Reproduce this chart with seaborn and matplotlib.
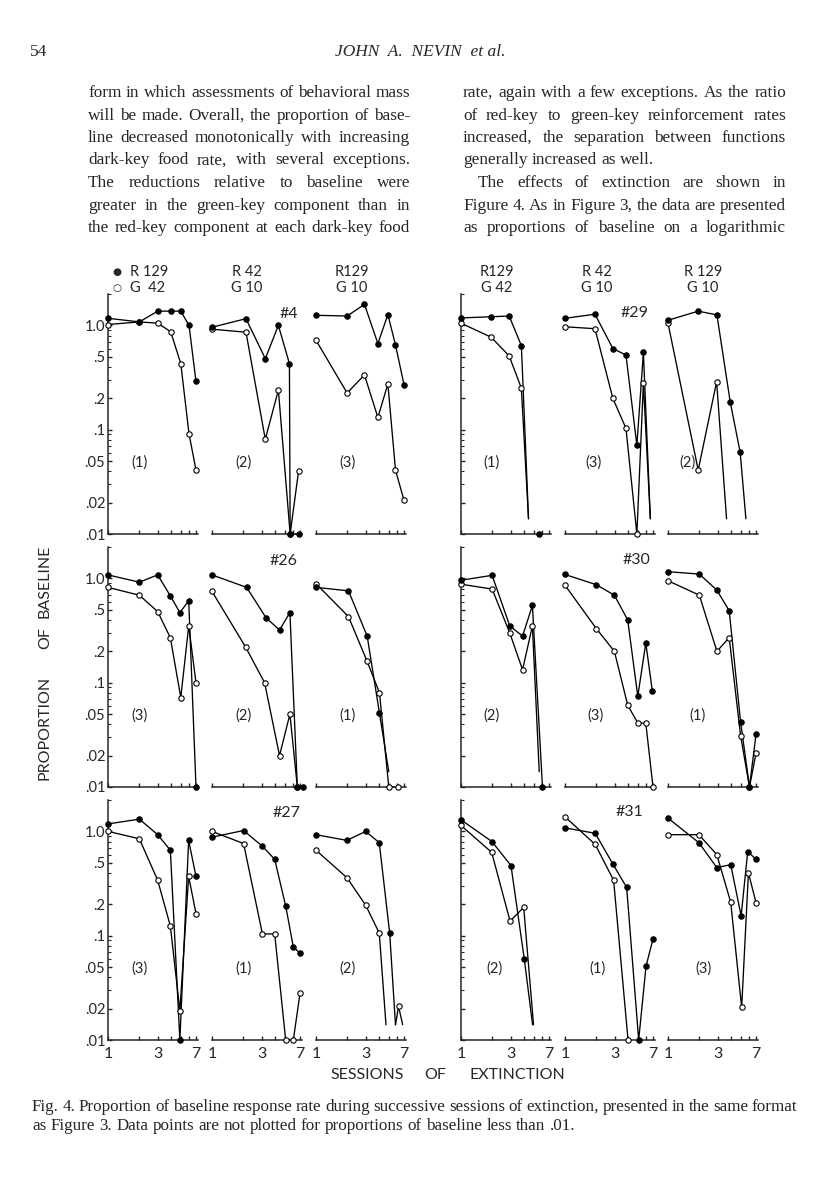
import numpy as np
import matplotlib
matplotlib.use("Agg")
import matplotlib.pyplot as plt
from matplotlib.ticker import NullFormatter
import seaborn as sns

NaN = np.nan

#* data : sessions of extinction (x) and proportion of baseline (y)
#* None = below .01 (line stopped, no point), NaN = gap in the line

# subject 4 (top row, left)
s4_x1 = [1, 2, 3, 4, 5, 6, 7]
s4_r1 = [1.17, 1.08, 1.37, 1.37, 1.37, 1.0, 0.29]
s4_g1 = [1.02, 1.08, 1.05, 0.87, 0.43, 0.091, 0.041]
s4_rx2 = [1, 2.12, 3.25, 4.34, 5.54, 5.63, 6.78]
s4_r2 = [0.96, 1.16, 0.48, 1.0, 0.43, 0.01, 0.01]
s4_gx2 = [1, 2.12, 3.25, 4.34, 5.63, 6.78]
s4_g2 = [0.92, 0.86, 0.081, 0.24, 0.01, 0.04]
s4_x3 = [1, 1.99, 2.92, 3.93, 4.9, 5.8, 7]
s4_r3 = [1.25, 1.23, 1.59, 0.67, 1.27, 0.65, 0.27]
s4_g3 = [0.72, 0.225, 0.335, 0.131, 0.275, 0.041, 0.021]

# subject 26 (middle row, left)
s26_rx1 = [1, 2, 3, 3.97, 4.9, 5.96, 7]
s26_r1 = [1.08, 0.92, 1.08, 0.68, 0.47, 0.61, 0.01]
s26_gx1 = [1, 2, 3, 3.97, 5.0, 5.96, 7]
s26_g1 = [0.82, 0.69, 0.48, 0.27, 0.072, 0.35, 0.10]
s26_rx2 = [1, 2.15, 3.3, 4.45, 5.6, 6.6, 7.5]
s26_r2 = [1.08, 0.82, 0.42, 0.32, 0.47, 0.01, 0.01]
s26_gx2 = [1, 2.1, 3.2, 4.45, 5.6, 6.6]
s26_g2 = [0.75, 0.22, 0.10, 0.02, 0.05, 0.01]
s26_rx3 = [1, 2.05, 3.1, 4.07, 5.0]
s26_r3 = [0.82, 0.76, 0.28, 0.051, None]
s26_gx3 = [1, 2.05, 3.1, 4.07, 5.0, 6.1]
s26_g3 = [0.89, 0.43, 0.16, 0.08, 0.01, 0.01]

# subject 27 (bottom row, left)
s27_x1 = [1, 2, 3, 3.97, 4.9, 5.95, 7]
s27_r1 = [1.18, 1.31, 0.93, 0.66, 0.01, 0.82, 0.37]
s27_g1 = [1.0, 0.85, 0.34, 0.124, 0.019, 0.37, 0.163]
s27_x2 = [1, 2.01, 3.05, 4.0, 5.1, 6.04, 7]
s27_r2 = [0.88, 1.02, 0.72, 0.54, 0.193, 0.078, 0.068]
s27_g2 = [1.0, 0.765, 0.104, 0.104, 0.01, 0.01, 0.028]
s27_rx3 = [1, 1.98, 3.0, 4.05, 5.1, 5.8]
s27_r3 = [0.93, 0.82, 1.0, 0.78, 0.106, None]
s27_gx3 = [1, 1.98, 3.0, 4.05, 4.7, NaN, 5.8, 6.2, 6.8]
s27_g3 = [0.66, 0.36, 0.196, 0.106, None, NaN, None, 0.021, None]

# subject 29 (top row, right)
s29_rx1 = [1, 1.95, 2.9, 3.8, 4.45, NaN, 5.6]
s29_r1 = [1.18, 1.21, 1.23, 0.64, None, NaN, 0.01]
s29_gx1 = [1, 1.95, 2.9, 3.8, 4.45]
s29_g1 = [1.05, 0.77, 0.51, 0.25, None]
s29_x2 = [1, 1.94, 2.88, 3.85, 4.9, 5.66, 6.6]
s29_r2 = [1.17, 1.28, 0.60, 0.52, 0.071, 0.55, None]
s29_g2 = [0.97, 0.93, 0.20, 0.103, 0.01, 0.28, None]
s29_rx3 = [1, 1.95, 2.95, 3.96, 4.93, 5.6]
s29_r3 = [1.12, 1.37, 1.26, 0.184, 0.061, None]
s29_gx3 = [1, 1.95, 2.93, 3.65]
s29_g3 = [1.05, 0.041, 0.288, None]

# subject 30 (middle row, right)
s30_rx1 = [1, 1.99, 2.94, 3.9, 4.85, 6.06]
s30_r1 = [0.96, 1.07, 0.35, 0.28, 0.55, 0.01]
s30_gx1 = [1, 1.99, 2.94, 3.9, 4.85, 5.64]
s30_g1 = [0.88, 0.79, 0.30, 0.133, 0.35, None]
s30_rx2 = [1, 2, 2.98, 4, 5, 5.97, 6.9]
s30_r2 = [1.09, 0.87, 0.69, 0.40, 0.074, 0.24, 0.083]
s30_gx2 = [1, 2, 2.98, 4, 5, 5.97, 7]
s30_g2 = [0.86, 0.33, 0.20, 0.061, 0.041, 0.041, 0.01]
s30_x3 = [1, 2, 2.95, 3.87, 4.98, 6.06, 7]
s30_r3 = [1.16, 1.10, 0.77, 0.49, 0.042, 0.01, 0.032]
s30_g3 = [0.95, 0.69, 0.20, 0.27, 0.031, 0.01, 0.021]

# subject 31 (bottom row, right)
s31_rx1 = [1, 1.98, 3.02, 4.05, 4.87]
s31_r1 = [1.29, 0.80, 0.47, 0.06, None]
s31_gx1 = [1, 1.97, 2.96, 4.0, 4.97]
s31_g1 = [1.14, 0.63, 0.138, 0.187, None]
s31_rx2 = [1, 1.95, 2.87, 3.91, 5.1, 6.0, 7]
s31_r2 = [1.08, 0.96, 0.49, 0.29, 0.01, 0.051, 0.093]
s31_gx2 = [1, 1.95, 2.93, 4.03]
s31_g2 = [1.38, 0.75, 0.34, 0.01]
s31_rx3 = [1, 1.98, 2.94, 4.0, 5.04, 5.83, 7]
s31_r3 = [1.34, 0.78, 0.45, 0.48, 0.155, 0.64, 0.54]
s31_gx3 = [1, 1.98, 2.94, 4.0, 5.1, 5.92, 7]
s31_g3 = [0.93, 0.93, 0.60, 0.21, 0.0205, 0.40, 0.208]

# labels
subjects_left = ["#4", "#26", "#27"]
subjects_right = ["#29", "#30", "#31"]
cond_left = [["(1)", "(2)", "(3)"], ["(3)", "(2)", "(1)"], ["(3)", "(1)", "(2)"]]
cond_right = [["(1)", "(3)", "(2)"], ["(2)", "(3)", "(1)"], ["(2)", "(1)", "(3)"]]
heads_left = [("R 42", "G 10"), ("R129", "G 10")]
heads_right = [("R129", "G 42"), ("R 42", "G 10"), ("R 129", "G 10")]
y_ticks = [0.01, 0.02, 0.05, 0.1, 0.2, 0.5, 1.0]
y_ticklabels = [".01", ".02", ".05", ".1", ".2", ".5", "1.0"]
x_ticks = [1, 2, 3, 4, 5, 6, 7]
x_ticklabels = ["1", "", "3", "", "", "", "7"]

left_text = [
    "form in which assessments of behavioral mass",
    "will be made. Overall, the proportion of base-",
    "line decreased monotonically with increasing",
    "dark-key food rate, with several exceptions.",
    "The reductions relative to baseline were",
    "greater in the green-key component than in",
    "the red-key component at each dark-key food",
]
right_text = [
    "rate, again with a few exceptions. As the ratio",
    "of red-key to green-key reinforcement rates",
    "increased, the separation between functions",
    "generally increased as well.",
    "The effects of extinction are shown in",
    "Figure 4. As in Figure 3, the data are presented",
    "as proportions of baseline on a logarithmic",
]
caption = [
    "Fig. 4. Proportion of baseline response rate during successive sessions of extinction, presented in the same format",
    "as Figure 3. Data points are not plotted for proportions of baseline less than .01.",
]

panels = {
    (0, 0): (s4_x1, s4_r1, s4_x1, s4_g1), (0, 1): (s4_rx2, s4_r2, s4_gx2, s4_g2), (0, 2): (s4_x3, s4_r3, s4_x3, s4_g3),
    (1, 0): (s26_rx1, s26_r1, s26_gx1, s26_g1), (1, 1): (s26_rx2, s26_r2, s26_gx2, s26_g2), (1, 2): (s26_rx3, s26_r3, s26_gx3, s26_g3),
    (2, 0): (s27_x1, s27_r1, s27_x1, s27_g1), (2, 1): (s27_x2, s27_r2, s27_x2, s27_g2), (2, 2): (s27_rx3, s27_r3, s27_gx3, s27_g3),
    (0, 3): (s29_rx1, s29_r1, s29_gx1, s29_g1), (0, 4): (s29_x2, s29_r2, s29_x2, s29_g2), (0, 5): (s29_rx3, s29_r3, s29_gx3, s29_g3),
    (1, 3): (s30_rx1, s30_r1, s30_gx1, s30_g1), (1, 4): (s30_rx2, s30_r2, s30_gx2, s30_g2), (1, 5): (s30_x3, s30_r3, s30_x3, s30_g3),
    (2, 3): (s31_rx1, s31_r1, s31_gx1, s31_g1), (2, 4): (s31_rx2, s31_r2, s31_gx2, s31_g2), (2, 5): (s31_rx3, s31_r3, s31_gx3, s31_g3),
}

#* layout (pixels of the 816x1200 page)
W, H = 816, 1200
CUT = 0.014
SANS = ["Lato", "DejaVu Sans"]
SERIF = ["Liberation Serif", "DejaVu Serif"]
col_x = [108, 212, 316, 461, 565, 668]   # pixel of session 1
row_bottom = [534, 787, 1040]             # pixel of .01
PX_DEC_X = 88 / np.log10(7)
ROW_H = 240
XMAX = 7.3

sns.set_style("ticks")
plt.rcParams["font.family"] = SANS

fig = plt.figure(figsize=(W / 100, H / 100), dpi=100)


def px_axes(left, top, width, height):
    return fig.add_axes([left / W, 1 - (top + height) / H, width / W, height / H])


def ftext(x, y, s, **kw):
    return fig.text(x / W, 1 - y / H, s, **kw)


def split_segments(xs, ys):
    segs, cur, prev_cut = [], [], False
    for x, y in zip(xs, ys):
        if x != x:
            if cur:
                segs.append(cur)
            cur, prev_cut = [], False
            continue
        cut = y is None
        if cut and prev_cut:
            segs.append(cur)
            cur = []
        cur.append((x, CUT if cut else y))
        prev_cut = cut
    if cur:
        segs.append(cur)
    return [s for s in segs if len(s) > 1]


def draw_series(ax, xs, ys, filled):
    for seg in split_segments(xs, ys):
        sns.lineplot(x=[p[0] for p in seg], y=[p[1] for p in seg], ax=ax, color="black",
                     lw=0.95, sort=False, estimator=None, clip_on=False, zorder=2)
    px = [x for x, y in zip(xs, ys) if y is not None and y == y]
    py = [y for y in ys if y is not None and y == y]
    sns.scatterplot(x=px, y=py, ax=ax, s=15, color="black" if filled else "white",
                    edgecolor="black", linewidth=0.8, zorder=4 if filled else 3, clip_on=False)


minor_y = [k * 10.0 ** e for e in (-2, -1, 0) for k in range(2, 10) if k * 10.0 ** e <= 2.0001]
minor_y = [v for v in minor_y if not any(abs(v - t) < 1e-9 for t in y_ticks)]

for (row, col), (rx, ry, gx, gy) in panels.items():
    width = PX_DEC_X * np.log10(XMAX)
    ax = px_axes(col_x[col], row_bottom[row] - ROW_H, width, ROW_H)
    ax.set_xscale("log")
    ax.set_yscale("log")
    draw_series(ax, gx, gy, filled=False)
    draw_series(ax, rx, ry, filled=True)
    ax.set_xlim(1, XMAX)
    ax.set_ylim(0.01, 2.0)
    ax.set_xlabel("")
    ax.set_ylabel("")
    ax.patch.set_alpha(0)
    sns.despine(ax=ax, left=col not in (0, 3))
    for sp in ax.spines.values():
        sp.set_linewidth(1.1)
    ax.set_xticks(x_ticks)
    ax.set_xticks([], minor=True)
    if row == 2:
        ax.set_xticklabels(x_ticklabels, fontsize=11.5)
    else:
        ax.set_xticklabels([])
    ax.tick_params(axis="x", direction="in", length=3, width=1, pad=5)
    if col in (0, 3):
        ax.set_yticks(y_ticks)
        ax.set_yticks(minor_y, minor=True)
        ax.yaxis.set_minor_formatter(NullFormatter())
        if col == 0:
            ax.set_yticklabels(y_ticklabels, fontsize=10.5)
        else:
            ax.set_yticklabels([])
        ax.tick_params(axis="y", which="major", direction="in", length=3.2, width=1, pad=2)
        ax.tick_params(axis="y", which="minor", direction="in", length=2.2, width=0.8)
    else:
        ax.set_yticks([])
        ax.set_yticks([], minor=True)

# legend and column heads
ftext(117, 272, "\u25cf", fontsize=7.5, ha="center", va="center", family=["DejaVu Sans"])
ftext(117, 288, "\u25cb", fontsize=7.5, ha="center", va="center", family=["DejaVu Sans"])
ftext(130, 272, "R 129", fontsize=10.5, va="center")
ftext(130, 288, "G  42", fontsize=10.5, va="center")
for (r, g), x in zip(heads_left, [247, 352]):
    ftext(x, 272, r, fontsize=10.5, ha="center", va="center")
    ftext(x, 288, g, fontsize=10.5, ha="center", va="center")
for (r, g), x in zip(heads_right, [497, 597, 703]):
    ftext(x, 272, r, fontsize=10.5, ha="center", va="center")
    ftext(x, 288, g, fontsize=10.5, ha="center", va="center")

# subject numbers and condition numbers
for s, (x, y) in zip(subjects_left, [(289, 314), (284, 561), (287, 813)]):
    ftext(x, y, s, fontsize=11.5, ha="center", va="center")
for s, (x, y) in zip(subjects_right, [(635, 313), (637, 560), (629, 812)]):
    ftext(x, y, s, fontsize=11.5, ha="center", va="center")
cond_pos_x = [[139, 244, 347, 491, 594, 687], [140, 243, 347, 492, 596, 698], [140, 244, 348, 495, 598, 703]]
cond_pos_y = [463, 716, 969]
for row in range(3):
    labels = cond_left[row] + cond_right[row]
    for lab, x in zip(labels, cond_pos_x[row]):
        ftext(x, cond_pos_y[row], lab, fontsize=10.5, ha="center", va="center")

# axis titles
for word, x in zip(["SESSIONS", "OF", "EXTINCTION"], [367, 435, 517]):
    ftext(x, 1075, word, fontsize=11.5, ha="center", va="center")
for word, y in zip(["PROPORTION", "OF", "BASELINE"], [728, 638, 581]):
    ftext(45, y, word, fontsize=11.5, ha="center", va="center", rotation=90)

#* page text around the figure
renderer = fig.canvas.get_renderer()


def text_width(s, size, **kw):
    t = fig.text(0, 0, s, fontsize=size, family=SERIF, **kw)
    w = t.get_window_extent(renderer).width
    t.remove()
    return w


def put_line(s, x0, x1, y, size, justify=True, **kw):
    words = s.split()
    widths = [text_width(w, size, **kw) for w in words]
    space = text_width("a a", size, **kw) - text_width("aa", size, **kw)
    gap = (x1 - x0 - sum(widths)) / (len(words) - 1) if justify and len(words) > 1 else space
    x = x0
    for w, ww in zip(words, widths):
        ftext(x, y, w, fontsize=size, family=SERIF, va="baseline", **kw)
        x += ww + gap


# body size chosen so that the widest line just fills its column
body = 12.0 * min(322 / max(text_width(l, 12.0) for l in left_text),
                  323 / max(text_width(l, 12.0) for l in right_text))

# caption: first line fills the full width with slightly tight spaces
cap_words = caption[0].split()
w11 = sum(text_width(w, 11.0) for w in cap_words)
sp11 = text_width("a a", 11.0) - text_width("aa", 11.0)
cap = 11.0 * 765 / (w11 + 0.85 * sp11 * (len(cap_words) - 1))

ftext(30, 56, "54", fontsize=12.5, family=SERIF, va="baseline")
ftext(420, 56, "JOHN  A.  NEVIN  et al.", fontsize=12.5, family=SERIF, style="italic", ha="center", va="baseline")

for i, line in enumerate(left_text):
    put_line(line, 88, 410, 97 + 22.5 * i, body)
for i, line in enumerate(right_text):
    x0 = 478 if i == 4 else 463
    put_line(line, x0, 786, 97 + 22.5 * i, body, justify=(i != 3))

put_line(caption[0], 32, 797, 1111, cap)
put_line(caption[1], 32, 797, 1130, cap, justify=False)

fig.savefig("out.png", dpi=100)
